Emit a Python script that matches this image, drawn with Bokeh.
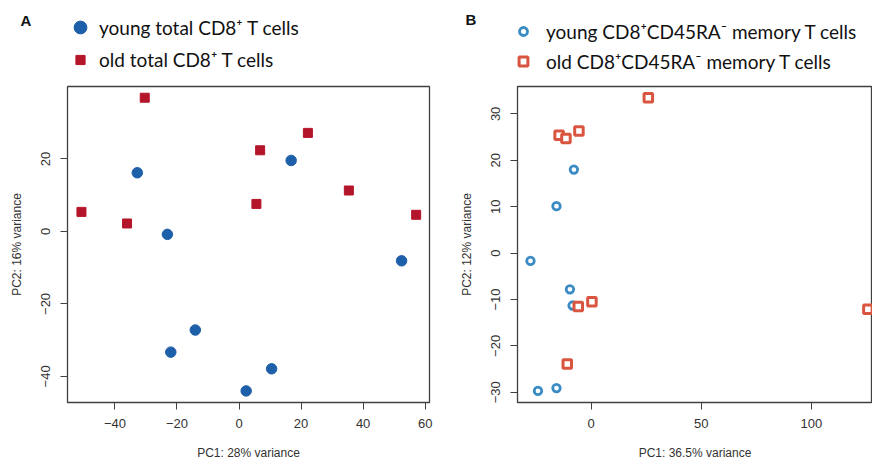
import numpy as np
from bokeh.plotting import figure
from bokeh.layouts import row, column
from bokeh.models import Legend, LegendItem, FixedTicker, Range1d, Label
from bokeh.embed import file_html
from bokeh.resources import INLINE

# ---- data ----
# Panel A: total CD8+ T cells
a_young_pc1 = [-32.8, -23.1, 16.8, 52.4, -14.1, -22.0, 10.5, 2.3]
a_young_pc2 = [16.2, -0.8, 19.6, -8.1, -27.2, -33.3, -37.9, -44.0]
a_old_pc1 = [-30.4, -50.8, -36.1, 22.2, 6.8, 35.4, 5.6, 57.1]
a_old_pc2 = [36.9, 5.4, 2.2, 27.2, 22.4, 11.3, 7.6, 4.6]
a_xticks = [-40, -20, 0, 20, 40, 60]
a_yticks = [-40, -20, 0, 20]
a_xlabel = "PC1: 28% variance"
a_ylabel = "PC2: 16% variance"
a_labels = ["young total CD8\u207a T cells", "old total CD8\u207a T cells"]

# Panel B: CD8+CD45RA- memory T cells
b_young_pc1 = [-7.8, -15.7, -27.5, -9.6, -8.4, -15.7, -24.1]
b_young_pc2 = [18.0, 10.1, -1.7, -7.8, -11.3, -29.1, -29.7]
b_old_pc1 = [26.0, -14.5, -11.4, -5.5, -5.8, 0.4, -10.8, 125.7]
b_old_pc2 = [33.5, 25.4, 24.7, 26.3, -11.5, -10.5, -23.9, -12.1]
b_xticks = [0, 50, 100]
b_yticks = [-30, -20, -10, 0, 10, 20, 30]
b_xlabel = "PC1: 36.5% variance"
b_ylabel = "PC2: 12% variance"
b_labels = ["young CD8\u207aCD45RA\u207b memory T cells", "old CD8\u207aCD45RA\u207b memory T cells"]

AX_FONT = "Liberation Sans"
LEG_FONT = "Lato"
HEAD_H = 85
W = 872

A_YOUNG = dict(marker="circle", fill_color="#1e5fa9", line_color="#1e5fa9")
A_OLD = dict(marker="square", fill_color="#b5152a", line_color="#b5152a")
B_YOUNG = dict(marker="circle", fill_color="white", line_color="#3a8bc4", line_width=2.8)
B_OLD = dict(marker="square", fill_color="white", line_color="#d9553f", line_width=3)


def base(width, xr, yr, xticks, yticks, xlabel, ylabel, left, right):
    p = figure(width=width, height=463 - HEAD_H, x_range=Range1d(*xr), y_range=Range1d(*yr),
               output_backend="svg", toolbar_location=None,
               min_border_left=left, min_border_right=right,
               min_border_top=1, min_border_bottom=61)
    p.grid.visible = False
    p.background_fill_color = "white"
    p.border_fill_color = "white"
    p.outline_line_color = "#404040"
    p.outline_line_width = 1.3
    for ax, ticks, lab in ((p.xaxis[0], xticks, xlabel), (p.yaxis[0], yticks, ylabel)):
        ax.ticker = FixedTicker(ticks=ticks)
        ax.axis_label = lab
        ax.axis_line_color = "#404040"
        ax.major_tick_line_color = "#404040"
        ax.major_tick_in = 0
        ax.major_tick_out = 7
        ax.minor_tick_line_color = None
        ax.major_label_text_font = AX_FONT
        ax.major_label_text_font_size = "13px"
        ax.major_label_text_color = "#333333"
        ax.axis_label_text_font = AX_FONT
        ax.axis_label_text_font_size = "12px"
        ax.axis_label_text_font_style = "normal"
        ax.axis_label_text_color = "#333333"
    p.xaxis[0].major_label_standoff = 9
    p.xaxis[0].axis_label_standoff = 15
    p.yaxis[0].major_label_standoff = 10
    p.yaxis[0].axis_label_standoff = 15
    p.yaxis[0].major_label_orientation = "vertical"
    return p


# header strip holding panel letters and legends (canvas pixel coordinates)
head = figure(width=W, height=HEAD_H, x_range=Range1d(0, W), y_range=Range1d(HEAD_H, 0),
              x_axis_type=None, y_axis_type=None, output_backend="svg", toolbar_location=None,
              min_border_left=0, min_border_right=0, min_border_top=0, min_border_bottom=0)
head.grid.visible = False
head.outline_line_color = None
head.background_fill_color = "white"
head.border_fill_color = "white"


def add_letter(letter, lx, ly):
    head.add_layout(Label(x=lx, y=ly, text=letter, text_font=AX_FONT, text_font_size="15px",
                          text_font_style="bold", text_color="#111111",
                          text_baseline="middle", text_align="left"))


def add_legend(style, label, gw, gh, standoff, loc):
    r = head.scatter(x=np.array([np.nan]), y=np.array([np.nan]), **style)
    leg = Legend(items=[LegendItem(label=label, renderers=[r], index=0)],
                 location=loc, orientation="vertical",
                 border_line_color=None, background_fill_alpha=0,
                 padding=0, margin=0, spacing=0,
                 glyph_width=gw, glyph_height=gh, label_height=gh,
                 label_standoff=standoff,
                 label_text_font=LEG_FONT, label_text_font_size="19px",
                 label_text_color="#111111")
    head.add_layout(leg, "center")


# ---- Panel A ----
pa = base(440, (-55.3, 61.4), (-47.2, 40.0), a_xticks, a_yticks, a_xlabel, a_ylabel, 67, 11)
pa.scatter(a_young_pc1, a_young_pc2, size=10.5, **A_YOUNG)
pa.scatter(a_old_pc1, a_old_pc2, size=9, **A_OLD)
add_letter("A", 20, 20)
add_legend(A_YOUNG, a_labels[0], 32, 32, 3, (64, 42))
add_legend(A_OLD, a_labels[1], 32, 23, 3, (64, 14))

# ---- Panel B ----
pb = base(W - 440, (-33.4, 127.8), (-32.2, 35.9), b_xticks, b_yticks, b_xlabel, b_ylabel, 77, 0)
pb.scatter(b_young_pc1, b_young_pc2, size=7.5, **B_YOUNG)
pb.scatter(b_old_pc1, b_old_pc2, size=8.5, **B_OLD)
add_letter("B", 465, 19)
add_legend(B_YOUNG, b_labels[0], 20, 30, 13, (513, 39))
add_legend(B_OLD, b_labels[1], 22, 30, 12, (512, 9))

layout = column(head, row(pa, pb, spacing=0), spacing=0)
open("out.html", "w").write(file_html(layout, INLINE))
